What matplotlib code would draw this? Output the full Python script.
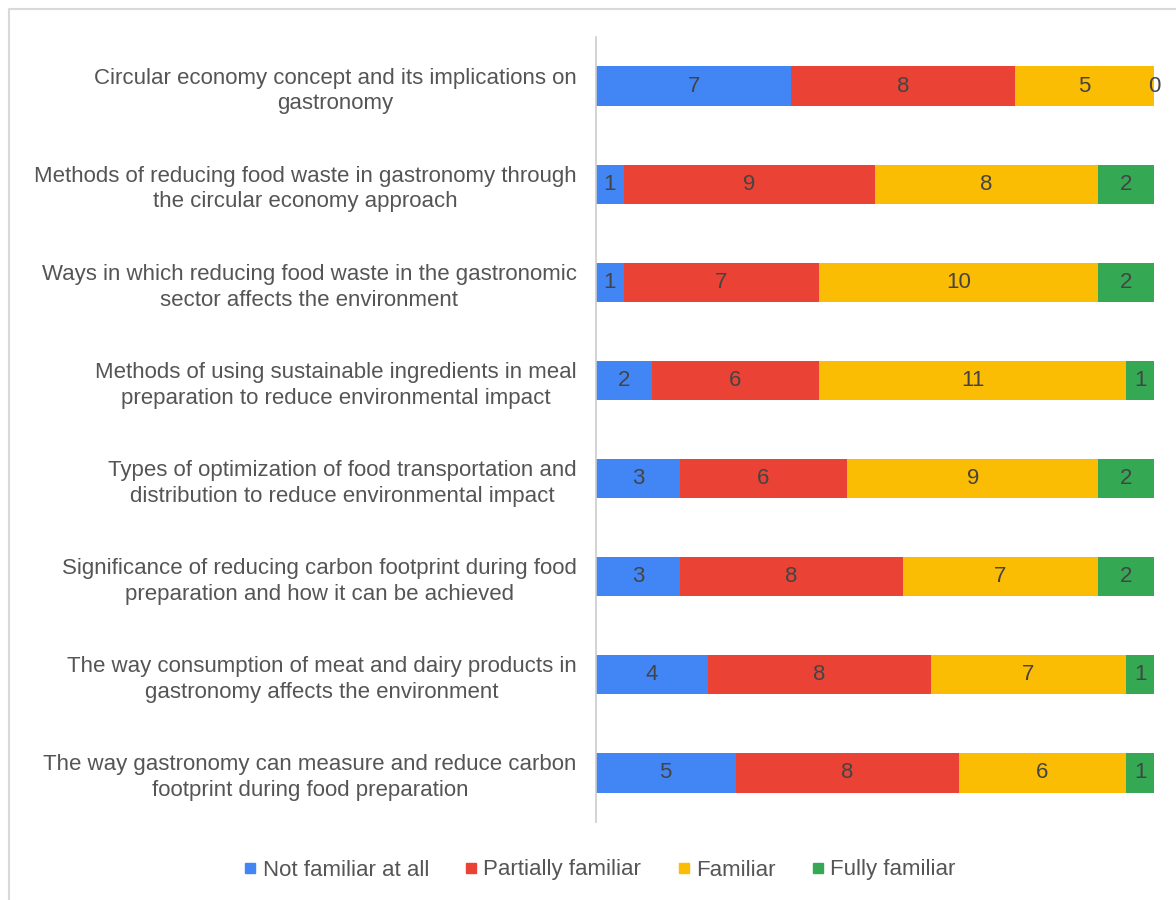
import numpy as np
import matplotlib.pyplot as plt
from matplotlib.lines import Line2D

plt.rcParams['font.family'] = ['Liberation Sans', 'DejaVu Sans']

topics = [
    'Circular economy concept and its implications on\ngastronomy',
    'Methods of reducing food waste in gastronomy through\nthe circular economy approach',
    'Ways in which reducing food waste in the gastronomic\nsector affects the environment',
    'Methods of using sustainable ingredients in meal\npreparation to reduce environmental impact',
    'Types of optimization of food transportation and\ndistribution to reduce environmental impact',
    'Significance of reducing carbon footprint during food\npreparation and how it can be achieved',
    'The way consumption of meat and dairy products in\ngastronomy affects the environment',
    'The way gastronomy can measure and reduce carbon\nfootprint during food preparation',
]

not_familiar = [7, 1, 1, 2, 3, 3, 4, 5]
partially = [8, 9, 7, 6, 6, 8, 8, 8]
familiar = [5, 8, 10, 11, 9, 7, 7, 6]
fully = [0, 2, 2, 1, 2, 2, 1, 1]

series = [not_familiar, partially, familiar, fully]
names = ['Not familiar at all', 'Partially familiar', 'Familiar', 'Fully familiar']
colors = ['#4285F4', '#EA4335', '#FBBC04', '#34A853']
txt = '#444444'
fs = 16

fig = plt.figure(figsize=(11.76, 9), dpi=100)
ax = fig.add_axes([596/1176, 1 - 822/900, 558/1176, 785/900])

y = np.arange(len(topics))
left = np.zeros(len(topics))
for vals, c in zip(series, colors):
    vals = np.array(vals, dtype=float)
    ax.barh(y, vals, left=left, height=0.4, color=c)
    for yi, l, v in zip(y, left, vals):
        ax.text(l + v / 2, yi, '%d' % v, ha='center', va='center',
                fontsize=fs, color=txt)
    left += vals

ax.set_xlim(0, 20)
ax.set_ylim(len(topics) - 0.5, -0.5)
ax.set_yticks(y)
ax.set_yticklabels(topics, fontsize=fs, color='#555555',
                   multialignment='center', linespacing=1.3)
ax.tick_params(axis='y', length=0, pad=14)
ax.set_xticks([])
for s in ['top', 'right', 'bottom']:
    ax.spines[s].set_visible(False)
ax.spines['left'].set_color('#cccccc')
ax.spines['left'].set_linewidth(1.2)

# legend with small square markers
handles = [Line2D([], [], marker='s', linestyle='none', markersize=7,
                  markerfacecolor=c, markeredgecolor=c) for c in colors]
leg = fig.legend(handles, names, loc='center', bbox_to_anchor=(600/1176, 1 - 870/900),
                 ncol=4, frameon=False, fontsize=fs, handlelength=0.5,
                 handletextpad=0.3, columnspacing=1.65)
for t in leg.get_texts():
    t.set_color('#555555')

# thin frame along the top and left edges
fig.add_artist(Line2D([8.5/1176, 8.5/1176, 1], [0, 1 - 9/900, 1 - 9/900],
                      transform=fig.transFigure, color='#d9d9d9', linewidth=1.5))

fig.savefig('out.png', dpi=100)
